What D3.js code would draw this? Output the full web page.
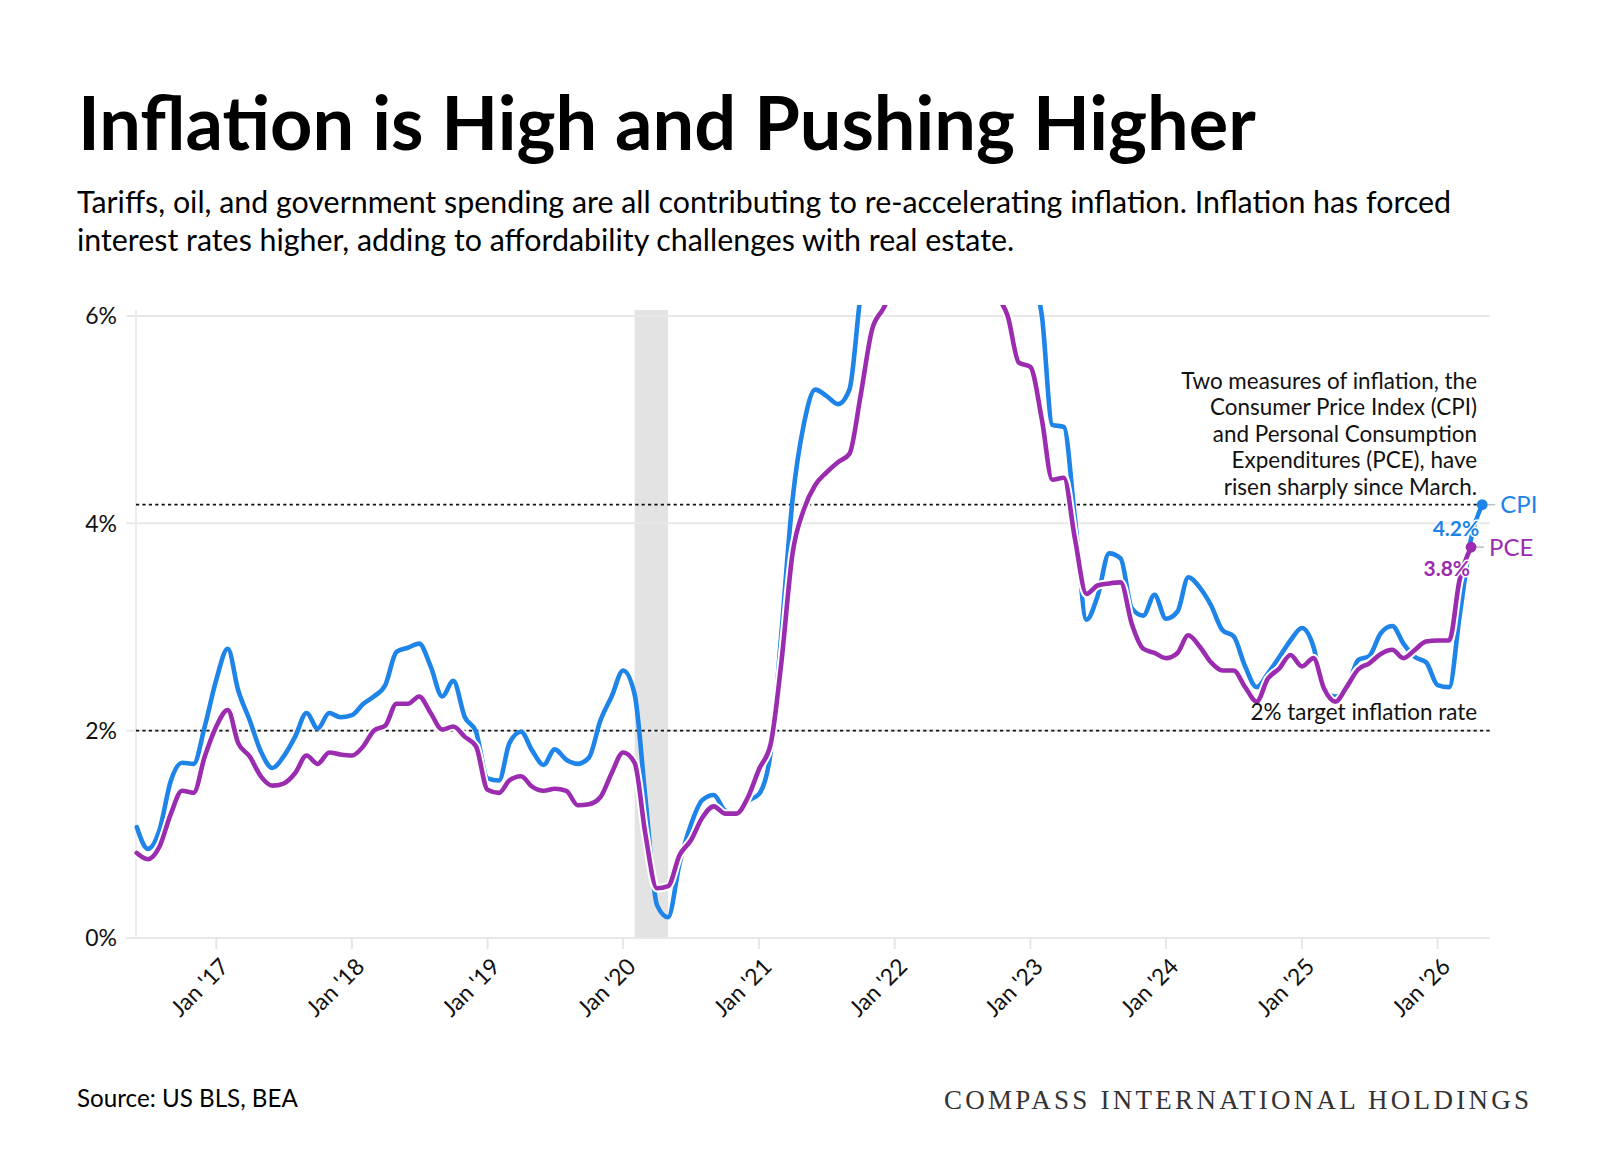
<!DOCTYPE html>
<html><head><meta charset="utf-8">
<script src="https://cdn.jsdelivr.net/npm/d3@7"></script>
<style>
body{margin:0;background:#fff;}
svg{display:block;font-family:Lato,'Open Sans',sans-serif;}
</style>
</head><body>
<svg id="chart" width="1600" height="1155"></svg>
<script>
// ---------- DATA ----------
const firstMonth = new Date(2016, 5, 1); // Jun 2016
const cpiValues = [
  1.07,0.86,1.04,1.52,1.69,1.68,2.04,
  2.49,2.79,2.39,2.10,1.80,1.64,1.75,1.94,2.17,2.02,2.17,2.13,
  2.15,2.26,2.33,2.44,2.76,2.80,2.84,2.62,2.33,2.48,2.13,1.99,
  1.54,1.52,1.88,1.99,1.81,1.67,1.82,1.72,1.68,1.74,2.10,2.33,
  2.58,2.35,1.35,0.32,0.20,0.72,1.09,1.33,1.38,1.23,1.20,1.32,
  1.39,1.79,2.90,4.23,4.95,5.29,5.23,5.15,5.29,6.20,6.80,7.00,
  7.50,7.90,8.50,8.30,8.60,9.10,8.50,8.30,8.20,7.70,7.10,6.50,
  6.40,6.00,4.95,4.93,4.05,3.07,3.30,3.71,3.66,3.18,3.11,3.31,
  3.08,3.15,3.48,3.38,3.21,2.97,2.91,2.62,2.42,2.55,2.71,2.87,
  2.99,2.81,2.38,2.33,2.40,2.68,2.72,2.94,3.01,2.84,2.71,2.66,
  2.44,2.42,3.10,3.85,4.18
];
const pceValues = [
  0.82,0.76,0.88,1.20,1.42,1.40,1.75,
  2.04,2.20,1.88,1.75,1.56,1.47,1.49,1.59,1.76,1.68,1.79,1.77,
  1.76,1.85,2.00,2.05,2.26,2.26,2.33,2.17,2.01,2.04,1.94,1.85,
  1.43,1.40,1.52,1.56,1.46,1.42,1.44,1.42,1.28,1.29,1.36,1.59,
  1.79,1.69,1.00,0.48,0.50,0.80,0.94,1.16,1.27,1.20,1.20,1.35,
  1.63,1.87,2.63,3.71,4.13,4.37,4.49,4.59,4.67,5.23,5.87,6.07,
  6.30,6.60,6.90,6.60,6.50,7.00,6.40,6.30,6.30,6.20,6.00,5.55,
  5.51,5.00,4.42,4.44,3.85,3.32,3.40,3.42,3.43,3.03,2.79,2.75,
  2.70,2.75,2.92,2.81,2.66,2.58,2.58,2.42,2.28,2.50,2.60,2.73,
  2.62,2.70,2.41,2.28,2.42,2.59,2.65,2.74,2.78,2.70,2.78,2.86,
  2.87,2.87,3.45,3.77
];
const yTickValues = [0, 2, 4, 6];
const recessionStart = new Date(2020, 1, 1);
const recessionEnd = new Date(2020, 4, 1);
const targetRate = 2;
const seriesNames = ["CPI", "PCE"];
const seriesColors = ["#1e84e8", "#9b2cb0"];
const titleText = "Inflation is High and Pushing Higher";
const subtitleLines = [
  "Tariffs, oil, and government spending are all contributing to re-accelerating inflation. Inflation has forced",
  "interest rates higher, adding to affordability challenges with real estate."
];
const noteLines = [
  "Two measures of inflation, the",
  "Consumer Price Index (CPI)",
  "and Personal Consumption",
  "Expenditures (PCE), have",
  "risen sharply since March."
];
const targetLabel = "2% target inflation rate";
const sourceText = "Source: US BLS, BEA";
const brandText = "COMPASS INTERNATIONAL HOLDINGS";

// ---------- BUILD ----------
const svg = d3.select("#chart");
svg.append("rect").attr("width",1600).attr("height",1155).attr("fill","#fff");

const monthsCpi = cpiValues.map((v,i)=>({date:d3.timeMonth.offset(firstMonth,i), value:v}));
const monthsPce = pceValues.map((v,i)=>({date:d3.timeMonth.offset(firstMonth,i), value:v}));

const x = d3.scaleTime().domain([new Date(2016,4,30), new Date(2026,4,22)]).range([136,1490]);
const y = d3.scaleLinear().domain([0,6]).range([938,316]);

function fit(sel, target){
  const w = sel.node().getComputedTextLength();
  const fs = parseFloat(sel.attr("font-size"));
  const nfs = fs*target/w;
  sel.attr("font-size", nfs);
  return nfs;
}

// Title
const title = svg.append("text").attr("x",78).attr("y",150)
  .attr("font-size",70).attr("font-weight",700).attr("fill","#000").text(titleText);
fit(title, 1178);

// Subtitle
const sub1 = svg.append("text").attr("x",77).attr("y",213).attr("font-size",27).attr("fill","#000").text(subtitleLines[0]);
const subFs = fit(sub1, 1375);
svg.append("text").attr("x",77).attr("y",250.5).attr("font-size",subFs).attr("fill","#000").text(subtitleLines[1]);

// Recession band
svg.append("rect").attr("x",x(recessionStart)).attr("y",310)
  .attr("width",x(recessionEnd)-x(recessionStart)).attr("height",938-310).attr("fill","#e3e3e3");

// Gridlines + y labels
const yG = svg.append("g");
yG.selectAll("line").data(yTickValues).join("line")
  .attr("x1",126).attr("x2",1490).attr("y1",d=>y(d)).attr("y2",d=>y(d))
  .attr("stroke","#e8e8e8").attr("stroke-width",2);
yG.selectAll("text").data(yTickValues).join("text")
  .attr("x",117).attr("y",d=>y(d)).attr("dy","0.36em").attr("text-anchor","end")
  .attr("font-size",23).attr("fill","#111").text(d=>d+"%");
svg.append("line").attr("x1",136).attr("x2",136).attr("y1",310).attr("y2",938)
  .attr("stroke","#ececec").attr("stroke-width",2);

// x axis
const xTicks = x.ticks(d3.timeYear.every(1));
const xG = svg.append("g");
xG.selectAll("line").data(xTicks).join("line")
  .attr("x1",d=>x(d)).attr("x2",d=>x(d)).attr("y1",938).attr("y2",949)
  .attr("stroke","#e6e6e6").attr("stroke-width",2);
const fmt = d3.timeFormat("Jan '%y");
xG.selectAll("text").data(xTicks).join("text")
  .attr("transform",d=>`translate(${x(d)+14},${968}) rotate(-45)`)
  .attr("text-anchor","end").attr("font-size",23).attr("fill","#111").text(fmt);

// Reference dotted lines
const cpiLast = monthsCpi[monthsCpi.length-1];
const pceLast = monthsPce[monthsPce.length-1];
svg.append("line").attr("x1",136).attr("x2",1490).attr("y1",y(targetRate)).attr("y2",y(targetRate))
  .attr("stroke","#111").attr("stroke-width",1.8).attr("stroke-dasharray","3.2,3.2");
svg.append("line").attr("x1",136).attr("x2",x(cpiLast.date)).attr("y1",y(cpiLast.value)).attr("y2",y(cpiLast.value))
  .attr("stroke","#111").attr("stroke-width",1.8).attr("stroke-dasharray","3.2,3.2");

// Lines (clipped)
svg.append("clipPath").attr("id","plotclip").append("rect")
  .attr("x",130).attr("y",305).attr("width",1400).attr("height",650);
const line = d3.line().x(d=>x(d.date)).y(d=>y(d.value)).curve(d3.curveMonotoneX);
const lg = svg.append("g").attr("clip-path","url(#plotclip)");
lg.append("path").datum(monthsCpi).attr("d",line).attr("fill","none")
  .attr("stroke",seriesColors[0]).attr("stroke-width",4.6).attr("stroke-linejoin","round").attr("stroke-linecap","round");
lg.append("path").datum(monthsPce).attr("d",line).attr("fill","none")
  .attr("stroke","#fff").attr("stroke-width",8.5).attr("stroke-linejoin","round");
lg.append("path").datum(monthsPce).attr("d",line).attr("fill","none")
  .attr("stroke",seriesColors[1]).attr("stroke-width",4.6).attr("stroke-linejoin","round").attr("stroke-linecap","round");

// Annotation text
const noteG = svg.append("g");
const n0 = noteG.append("text").attr("x",1477).attr("y",388.5).attr("text-anchor","end")
  .attr("font-size",21).attr("fill","#111").text(noteLines[0]);
const noteFs = fit(n0, 296);
noteLines.slice(1).forEach((t,i)=>{
  noteG.append("text").attr("x",1477).attr("y",388.5+(i+1)*26.6).attr("text-anchor","end")
    .attr("font-size",noteFs).attr("fill","#111").text(t);
});
svg.append("text").attr("x",1477).attr("y",720).attr("text-anchor","end")
  .attr("font-size",noteFs).attr("fill","#111").text(targetLabel);

// End dots and labels
const ends = [
  {name:seriesNames[0], color:seriesColors[0], d:cpiLast, vdx:-3, vdy:31},
  {name:seriesNames[1], color:seriesColors[1], d:pceLast, vdx:-1, vdy:29}
];
ends.forEach(e=>{
  const cx = x(e.d.date), cy = y(e.d.value);
  svg.append("line").attr("x1",cx+5).attr("x2",cx+13).attr("y1",cy).attr("y2",cy)
    .attr("stroke","#bdbdbd").attr("stroke-width",1.5);
  svg.append("text").attr("x",cx+e.vdx).attr("y",cy+e.vdy).attr("text-anchor","end")
    .attr("font-size",21).attr("font-weight",700).attr("fill",e.color)
    .attr("stroke","#fff").attr("stroke-width",3).attr("paint-order","stroke")
    .text(d3.format(".1f")(e.d.value)+"%");
  svg.append("circle").attr("cx",cx).attr("cy",cy).attr("r",5.4).attr("fill",e.color);
  svg.append("text").attr("x",cx+18).attr("y",cy).attr("dy","0.36em")
    .attr("font-size",24).attr("fill",e.color).text(e.name);
});

// Footer
const src = svg.append("text").attr("x",77).attr("y",1107).attr("font-size",22).attr("fill","#000").text(sourceText);
fit(src, 221);
svg.append("text").attr("x",944).attr("y",1108.5).attr("font-size",27)
  .style("font-family","'Liberation Serif','DejaVu Serif',serif").attr("fill","#333")
  .attr("textLength",585).attr("lengthAdjust","spacing").text(brandText);
</script>
</body></html>
